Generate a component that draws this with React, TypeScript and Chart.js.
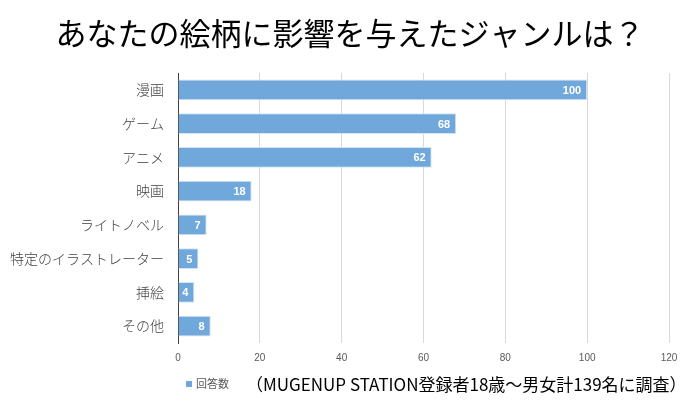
import React, { useEffect, useRef } from "react";
import { Chart, registerables } from "chart.js";

Chart.register(...registerables);

const title = "あなたの絵柄に影響を与えたジャンルは？";
const categories = ["漫画", "ゲーム", "アニメ", "映画", "ライトノベル", "特定のイラストレーター", "挿絵", "その他"];
const seriesName = "回答数";
const values = [100, 68, 62, 18, 7, 5, 4, 8];
const xTicks = [0, 20, 40, 60, 80, 100, 120];
const note = "（MUGENUP STATION登録者18歳～男女計139名に調査）";

const JP = '"Noto Sans CJK JP", "Noto Sans", sans-serif';
const BAR = "#70A8DB";

const overlay = {
  id: "overlay",
  afterDatasetsDraw(chart: any) {
    const ctx = chart.ctx;
    const meta = chart.getDatasetMeta(0);
    ctx.save();
    ctx.fillStyle = "#FFFFFF";
    ctx.font = 'bold 11px "Liberation Sans", "DejaVu Sans", sans-serif';
    ctx.textAlign = "right";
    ctx.textBaseline = "middle";
    meta.data.forEach((el: any, i: number) => {
      ctx.fillText(String(values[i]), el.x - 6, el.y + 1);
    });
    ctx.restore();
  },
  afterDraw(chart: any) {
    const ctx = chart.ctx;
    ctx.save();
    ctx.fillStyle = "#000000";
    ctx.font = "31px " + JP;
    ctx.textAlign = "center";
    ctx.textBaseline = "middle";
    ctx.fillText(title, 350, 33);

    ctx.fillStyle = BAR;
    ctx.fillRect(186, 381, 6, 6);
    ctx.fillStyle = "#595959";
    ctx.font = "11px " + JP;
    ctx.textAlign = "left";
    ctx.fillText(seriesName, 196, 384);

    ctx.fillStyle = "#000000";
    ctx.font = "17px " + JP;
    ctx.fillText(note, 246, 385);
    ctx.restore();
  },
};

export default function App() {
  const ref = useRef<HTMLCanvasElement>(null);
  useEffect(() => {
    const chart = new Chart(ref.current!, {
      type: "bar",
      data: {
        labels: categories,
        datasets: [
          {
            label: seriesName,
            data: values,
            backgroundColor: BAR,
            borderColor: "#D3E4F4",
            borderWidth: 1,
            barPercentage: 0.62,
            categoryPercentage: 1,
          },
        ],
      },
      options: {
        indexAxis: "y",
        responsive: false,
        animation: false,
        devicePixelRatio: 1,
        layout: { padding: { left: 0, right: 31, top: 73, bottom: 36 } },
        plugins: { legend: { display: false }, title: { display: false }, tooltip: { enabled: false } },
        scales: {
          x: {
            min: 0,
            max: 120,
            afterBuildTicks: (scale: any) => {
              scale.ticks = xTicks.map((v) => ({ value: v }));
            },
            afterFit: (scale: any) => {
              scale.height = 25;
            },
            grid: { color: "#D9D9D9", drawTicks: false, lineWidth: 1 },
            border: { display: false },
            ticks: {
              color: "#595959",
              padding: 9,
              font: { size: 10, family: '"Liberation Sans", "DejaVu Sans", sans-serif' },
            },
          },
          y: {
            afterFit: (scale: any) => {
              scale.width = 178;
            },
            grid: { display: false, drawTicks: false },
            border: { display: true, color: "#404040", width: 1 },
            ticks: {
              color: "#404040",
              padding: 14,
              font: { size: 14, weight: 300, family: JP },
            },
          },
        },
      },
      plugins: [overlay],
    });
    return () => chart.destroy();
  }, []);
  return (
    <div style={{ position: "absolute", left: 0, top: 0, width: 700, height: 404, background: "#fff" }}>
      <canvas ref={ref} width={700} height={404} />
    </div>
  );
}
